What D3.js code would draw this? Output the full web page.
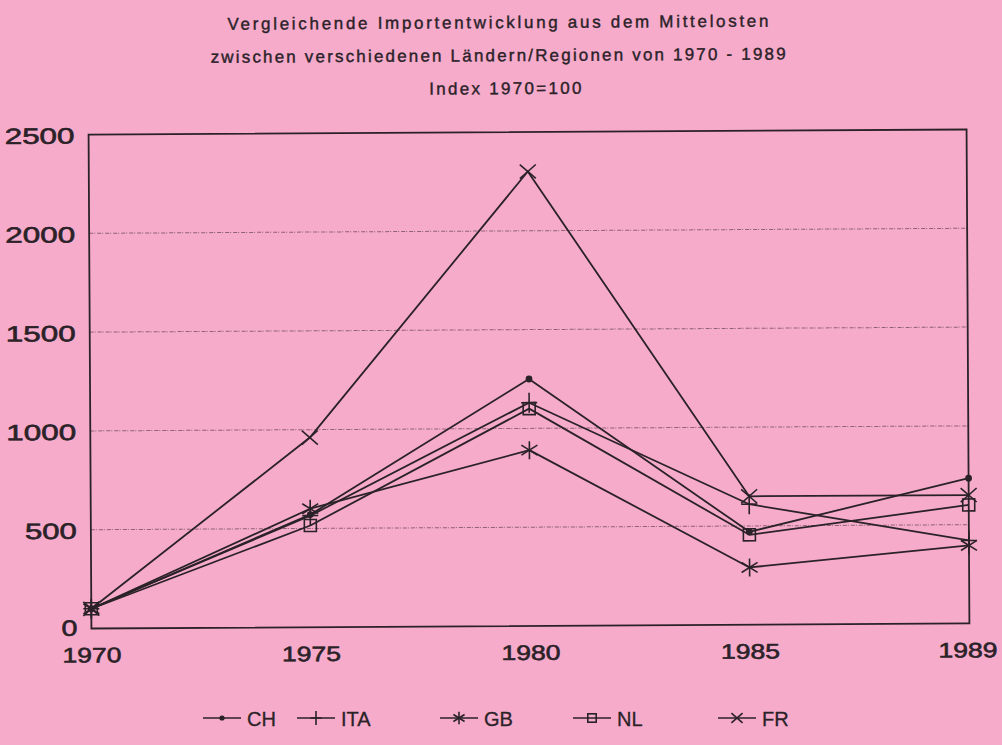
<!DOCTYPE html>
<html>
<head>
<meta charset="utf-8">
<script src="https://cdn.jsdelivr.net/npm/d3@7"></script>
<style>
  html, body { margin: 0; padding: 0; background: #f6abcb; }
  svg { display: block; }
</style>
</head>
<body>
<div id="chart"></div>
<script>
// years on the x axis (equally spaced categories, like the original plot)
var years = ["1970", "1975", "1980", "1985", "1989"];

// index values, 1970 = 100
var ch  = [100, 570, 1250, 470, 735];
var ita = [100, 565, 1130, 610, 420];
var gb  = [100, 600, 890, 290, 395];
var nl  = [100, 515, 1100, 455, 600];
var fr  = [100, 960, 2300, 650, 650];

var seriesNames = ["CH", "ITA", "GB", "NL", "FR"];
var markers     = ["dot", "plus", "star", "square", "cross"];
var yTicks      = [0, 500, 1000, 1500, 2000, 2500];
var gridTicks   = [500, 1000, 1500, 2000];

var titles = [
  "Vergleichende Importentwicklung aus dem Mittelosten",
  "zwischen verschiedenen Ländern/Regionen von 1970 - 1989",
  "Index 1970=100"
];

var ink = "#2b2228";
var W = 1002, H = 745;

var svg = d3.select("#chart").append("svg")
    .attr("width", W).attr("height", H)
    .style("font-family", "'Liberation Sans', Arial, sans-serif");

svg.append("rect").attr("width", W).attr("height", H).attr("fill", "#f6abcb");

// the scan is tilted a little, so the whole sheet is turned slightly
var g = svg.append("g").attr("transform", "rotate(-0.33, 529, 380)");

// titles
var titleSpec = [
  {y: 28, w: 541, cx: 500},
  {y: 61, w: 575, cx: 500},
  {y: 94, w: 152, cx: 507}
];
g.selectAll("text.title").data(titles).enter().append("text")
    .attr("class", "title")
    .attr("x", function(d, i) { return titleSpec[i].cx; })
    .attr("y", function(d, i) { return titleSpec[i].y; })
    .attr("text-anchor", "middle")
    .attr("textLength", function(d, i) { return titleSpec[i].w; })
    .attr("lengthAdjust", "spacing")
    .style("font-size", "17px")
    .attr("fill", ink)
    .attr("stroke", ink)
    .attr("stroke-width", 0.4)
    .text(function(d) { return d; });

// scales
var x = d3.scalePoint().domain(years).range([90, 968]);
var y = d3.scaleLinear().domain([0, 2500]).range([626, 132]);

// dotted gridlines
g.selectAll("line.grid").data(gridTicks).enter().append("line")
    .attr("class", "grid")
    .attr("x1", 90).attr("x2", 968)
    .attr("y1", function(d) { return y(d); })
    .attr("y2", function(d) { return y(d); })
    .attr("stroke", "#6e4a5a")
    .attr("stroke-width", 1)
    .attr("stroke-dasharray", "4,1,1,2")
    .attr("opacity", 0.75);

// frame
g.append("rect")
    .attr("x", 90).attr("y", y(2500))
    .attr("width", 968 - 90).attr("height", y(0) - y(2500))
    .attr("fill", "none").attr("stroke", ink).attr("stroke-width", 1.8);

// y axis labels (wide plotter digits)
var yAxis = d3.axisLeft(y).tickValues(yTicks).tickSize(0).tickPadding(14)
    .tickFormat(d3.format("d"));
var ya = g.append("g").attr("transform", "translate(90,0)").call(yAxis);
ya.select(".domain").remove();
ya.selectAll("text")
    .style("font-size", "22px")
    .attr("textLength", function(d) { return String(d).length * 18 - 2; })
    .attr("lengthAdjust", "spacingAndGlyphs")
    .attr("fill", ink)
    .attr("stroke", ink)
    .attr("stroke-width", 0.6)
    .attr("dy", "0.38em");
ya.selectAll("text").filter(function(d) { return d === 0; }).attr("dy", "0.3em");

// x axis labels
var xAxis = d3.axisBottom(x).tickSize(0).tickPadding(19);
var xa = g.append("g").attr("transform", "translate(0," + y(0) + ")").call(xAxis);
xa.select(".domain").remove();
xa.selectAll("text")
    .style("font-size", "21px")
    .attr("textLength", 59)
    .attr("lengthAdjust", "spacingAndGlyphs")
    .attr("fill", ink)
    .attr("stroke", ink)
    .attr("stroke-width", 0.6);
xa.selectAll("text").filter(function(d) { return d === "1989"; }).attr("dx", "-2px");

// marker drawing, s = size factor
function drawMarker(sel, type, s) {
  if (type === "dot") {
    sel.append("circle").attr("r", 2.6 * s).attr("fill", ink);
  } else if (type === "plus") {
    sel.append("line").attr("x1", -8 * s).attr("x2", 8 * s).attr("y1", 0).attr("y2", 0);
    sel.append("line").attr("x1", 0).attr("x2", 0).attr("y1", -10 * s).attr("y2", 10 * s);
  } else if (type === "star") {
    sel.append("line").attr("x1", 0).attr("x2", 0).attr("y1", -9 * s).attr("y2", 9 * s);
    sel.append("line").attr("x1", -8 * s).attr("x2", 8 * s).attr("y1", -5 * s).attr("y2", 5 * s);
    sel.append("line").attr("x1", -8 * s).attr("x2", 8 * s).attr("y1", 5 * s).attr("y2", -5 * s);
  } else if (type === "square") {
    sel.append("rect").attr("x", -6 * s).attr("y", -6 * s)
        .attr("width", 12 * s).attr("height", 12 * s)
        .attr("fill", "none");
  } else if (type === "cross") {
    sel.append("line").attr("x1", -8 * s).attr("x2", 8 * s).attr("y1", -7 * s).attr("y2", 7 * s);
    sel.append("line").attr("x1", -8 * s).attr("x2", 8 * s).attr("y1", 7 * s).attr("y2", -7 * s);
  }
  sel.attr("stroke", ink).attr("stroke-width", 1.6);
}

var allValues = [ch, ita, gb, nl, fr];
var line = d3.line()
    .x(function(d, i) { return x(years[i]); })
    .y(function(d) { return y(d); });

allValues.forEach(function(vals, k) {
  g.append("path")
      .attr("d", line(vals))
      .attr("fill", "none")
      .attr("stroke", ink)
      .attr("stroke-width", 1.8)
      .attr("stroke-linejoin", "round");
  vals.forEach(function(v, i) {
    var m = g.append("g").attr("transform", "translate(" + x(years[i]) + "," + y(v) + ")");
    drawMarker(m, markers[k], 1);
  });
});

// legend
var legendX = [203, 297, 440, 573, 718];
var legend = svg.append("g");
seriesNames.forEach(function(name, k) {
  var lg = legend.append("g").attr("transform", "translate(" + legendX[k] + ",718)");
  lg.append("line").attr("x1", 0).attr("x2", 38).attr("y1", 0).attr("y2", 0)
      .attr("stroke", ink).attr("stroke-width", 1.5);
  var m = lg.append("g").attr("transform", "translate(19,0)");
  drawMarker(m, markers[k], 0.7);
  lg.append("text")
      .attr("x", 44).attr("y", 7.5)
      .style("font-size", "20px")
      .attr("fill", ink)
      .attr("stroke", ink)
      .attr("stroke-width", 0.3)
      .text(name);
});
</script>
</body>
</html>
